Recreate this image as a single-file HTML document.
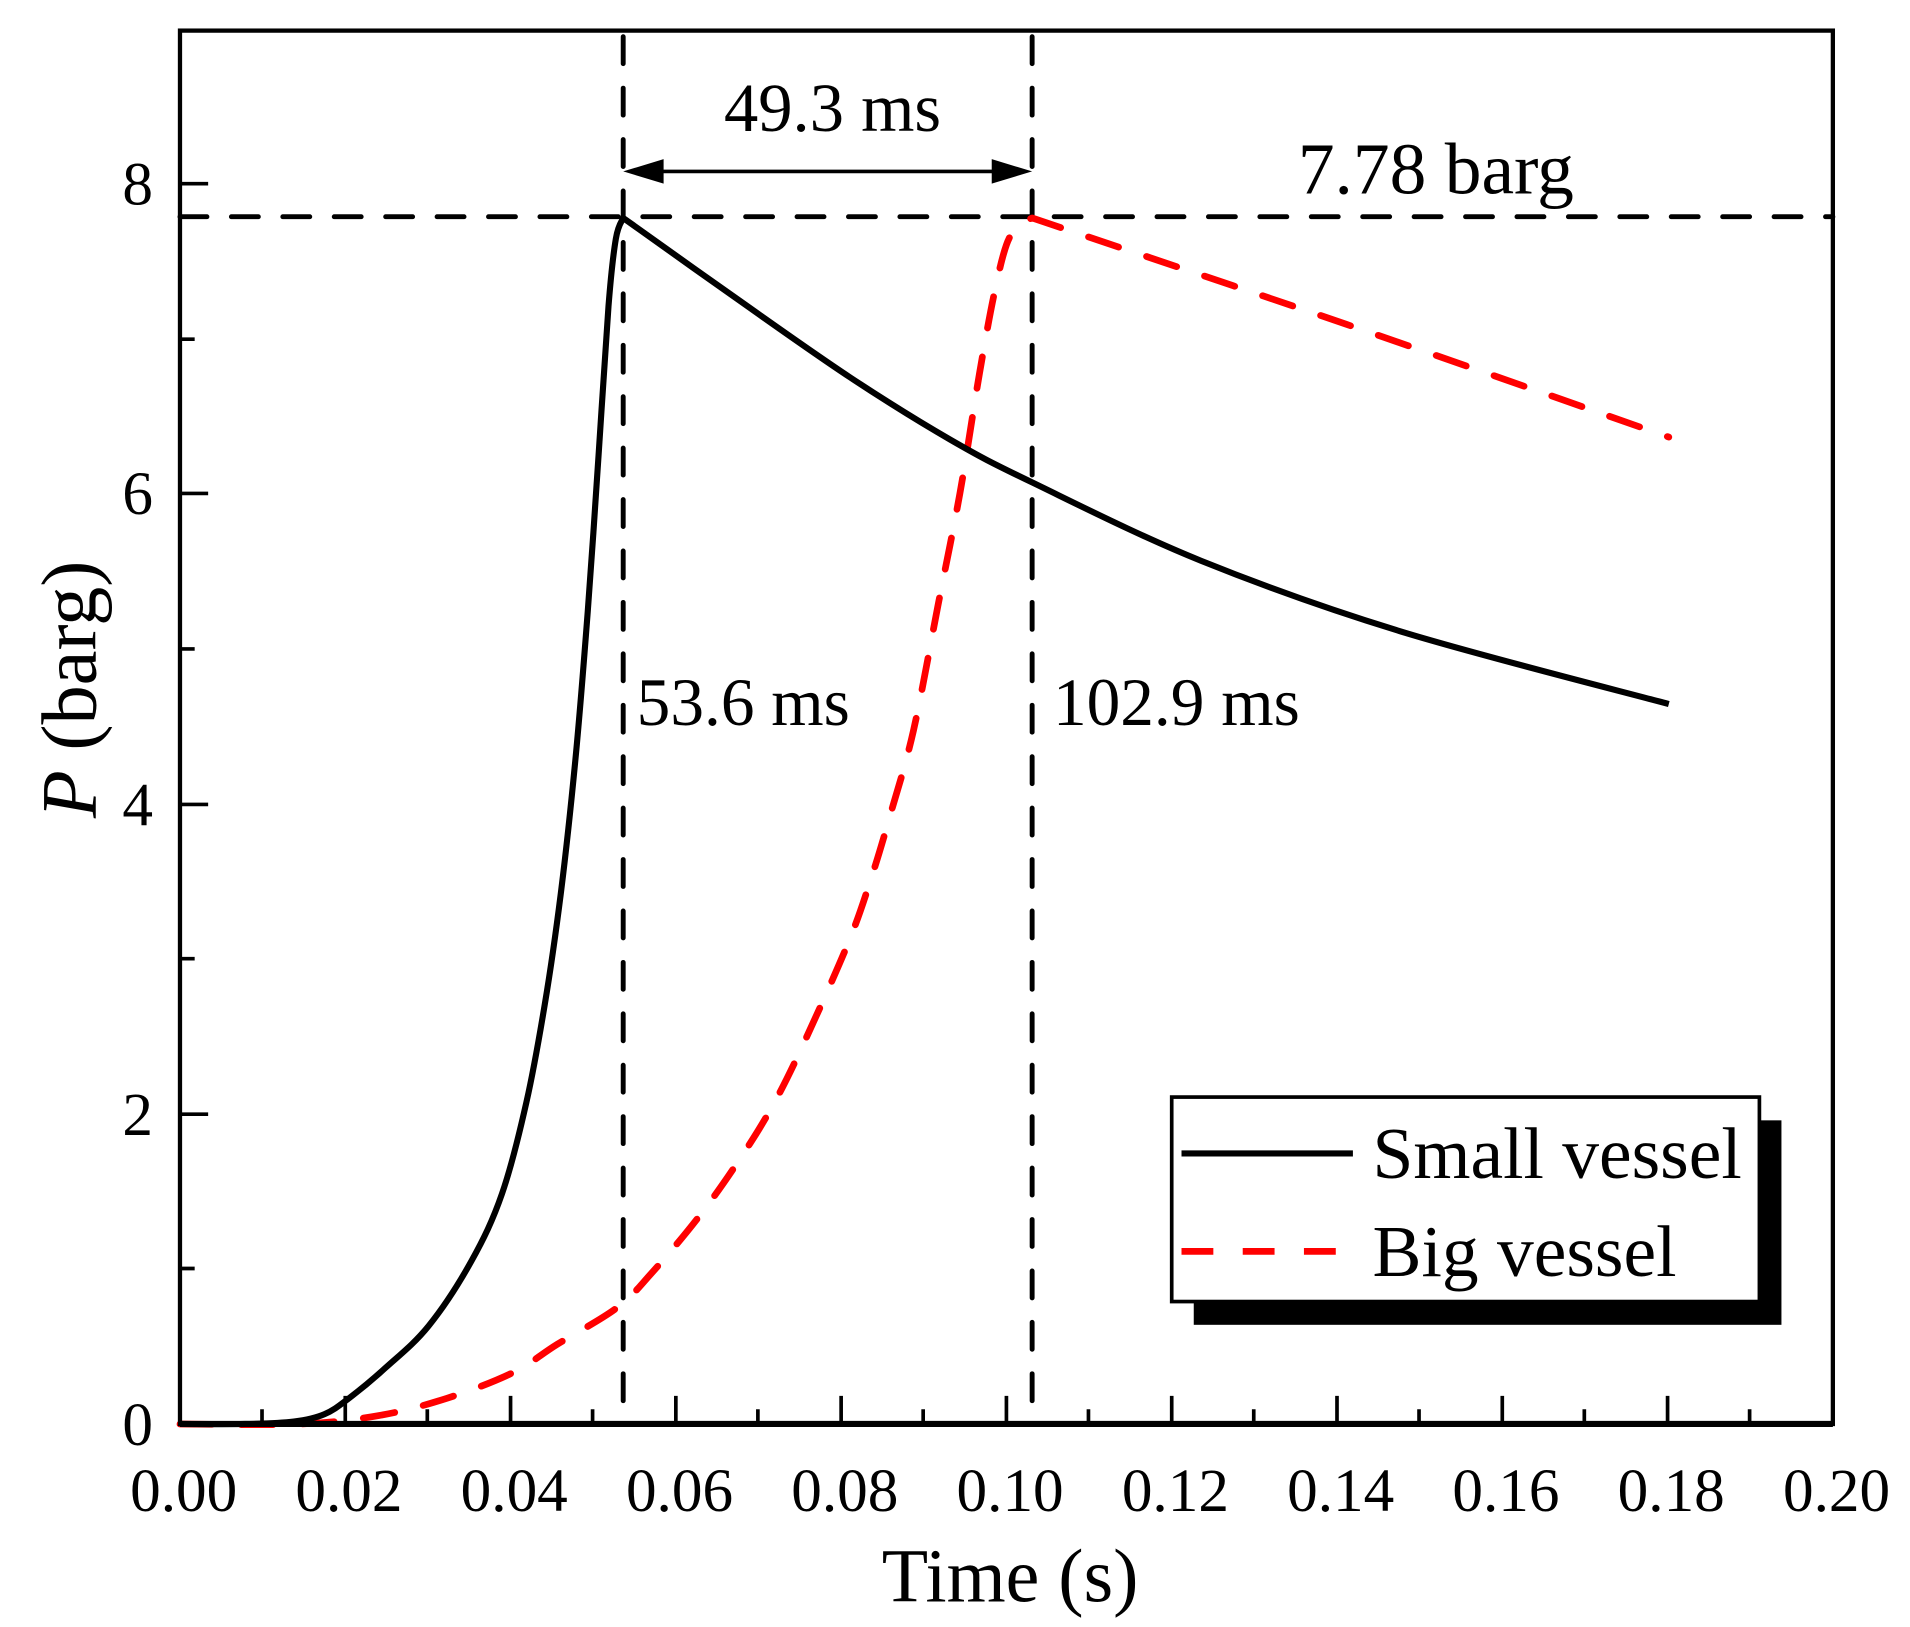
<!DOCTYPE html>
<html><head><meta charset="utf-8"><style>
html,body{margin:0;padding:0;background:#fff;}
svg{display:block;}
text{font-family:"Liberation Serif",serif;fill:#000;}
</style></head><body>
<svg width="1910" height="1627" viewBox="0 0 1560 1328.8" preserveAspectRatio="none" xmlns="http://www.w3.org/2000/svg">
<rect x="0" y="0" width="1560" height="1329" fill="#fff"/>
<g stroke="#000" stroke-width="3">
<path d="M214,1163V1151 M349,1163V1151 M484,1163V1151 M619,1163V1151 M754,1163V1151 M889,1163V1151 M1024,1163V1151 M1159,1163V1151 M1294,1163V1151 M1429,1163V1151"/>
<path d="M282,1163V1140 M417,1163V1140 M552,1163V1140 M687,1163V1140 M822,1163V1140 M957,1163V1140 M1092,1163V1140 M1227,1163V1140 M1362,1163V1140"/>
<path d="M147,910H170 M147,657H170 M147,403H170 M147,150H170"/>
<path d="M147,1036H159 M147,783H159 M147,530H159 M147,277H159"/>
</g>
<g stroke="#000" stroke-width="4" stroke-dasharray="22,20" stroke-linecap="round" fill="none">
<path d="M147,177H1497"/>
<path d="M509,30V1163"/>
<path d="M843,30V1163"/>
</g>
<path d="M522,140H830" stroke="#000" stroke-width="3"/>
<path d="M509,140L542,130L542,150Z M843,140L810,130L810,150Z" fill="#000"/>
<path id="big" d="" fill="none" stroke="#f00" stroke-width="5.5" stroke-dasharray="26,24" stroke-linecap="round" stroke-linejoin="round"/>
<path id="small" d="" fill="none" stroke="#000" stroke-width="5" stroke-linejoin="round"/>
<rect x="147" y="25" width="1350" height="1138" fill="none" stroke="#000" stroke-width="3.5"/>
<path d="M147,1163H1497" stroke="#000" stroke-width="5"/>
<rect x="975" y="915" width="480" height="167" fill="#000"/>
<rect x="957" y="896" width="480" height="167" fill="#fff" stroke="#000" stroke-width="3"/>
<path d="M965,942H1105" stroke="#000" stroke-width="5"/>
<path d="M965,1022H1105" stroke="#f00" stroke-width="5.5" stroke-dasharray="26,24"/>
<text x="1121" y="962" font-size="60">Small vessel</text>
<text x="1121" y="1042" font-size="60">Big vessel</text>
<text x="680" y="107" font-size="56" text-anchor="middle">49.3 ms</text>
<text x="1060" y="158" font-size="60">7.78 barg</text>
<text x="520" y="592" font-size="55">53.6 ms</text>
<text x="860" y="592" font-size="55">102.9 ms</text>
<g font-size="50" text-anchor="middle">
<text x="150" y="1234">0.00</text><text x="285" y="1234">0.02</text><text x="420" y="1234">0.04</text><text x="555" y="1234">0.06</text><text x="690" y="1234">0.08</text><text x="825" y="1234">0.10</text><text x="960" y="1234">0.12</text><text x="1095" y="1234">0.14</text><text x="1230" y="1234">0.16</text><text x="1365" y="1234">0.18</text><text x="1500" y="1234">0.20</text>
</g>
<g font-size="50" text-anchor="end">
<text x="125" y="1180">0</text><text x="125" y="927">2</text><text x="125" y="674">4</text><text x="125" y="420">6</text><text x="125" y="167">8</text>
</g>
<text x="825" y="1308" font-size="62" text-anchor="middle">Time (s)</text>
<text transform="translate(78,563) rotate(-90)" font-size="64" text-anchor="middle"><tspan font-style="italic">P</tspan> (barg)</text>
</svg>
<script>
function cr(p,first){var d=first?"M"+p[0][0]+","+p[0][1]:"";for(var i=0;i<p.length-1;i++){var a=p[i-1]||p[i],b=p[i],c=p[i+1],e=p[i+2]||c;
d+=" C"+(b[0]+(c[0]-a[0])/6).toFixed(1)+","+(b[1]+(c[1]-a[1])/6).toFixed(1)+" "+(c[0]-(e[0]-b[0])/6).toFixed(1)+","+(c[1]-(e[1]-b[1])/6).toFixed(1)+" "+c[0]+","+c[1];}return d;}
var sRise=[[147,1163],[200,1163],[240,1161],[265,1155],[285,1142],[315,1117],[350,1083],[385,1030],[410,975],[430,900],[445,820],[458,730],[470,620],[480,500],[489,370],[497,250],[503,195],[509,178]];
var sDec=[[509,178],[599,242],[694,308],[776,359],[843,394],[981,458],[1145,516],[1363,575]];
var bRise=[[147,1163],[245,1163],[310,1156],[365,1142],[419,1121],[455,1098],[504,1068],[532,1040],[569,996],[600,953],[630,905],[656,853],[692,772],[711,719],[727,666],[746,597],[766,495],[784,403],[800,305],[812,240],[822,200],[832,184],[843,178]];
var bDec=[[843,178],[1100,265],[1363,357]];
document.getElementById("small").setAttribute("d",cr(sRise,true)+cr(sDec,false));
document.getElementById("big").setAttribute("d",cr(bRise,true)+cr(bDec,false));
</script>
</body></html>
